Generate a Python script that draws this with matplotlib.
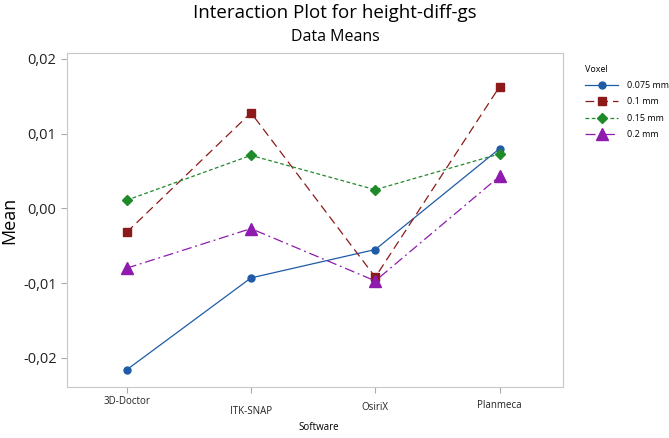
import matplotlib
matplotlib.use("Agg")
import matplotlib.pyplot as plt
import matplotlib.transforms as mtransforms
import numpy as np

plt.rcParams['font.family'] = ['Open Sans', 'DejaVu Sans']

# data
software = ["3D-Doctor", "ITK-SNAP", "OsiriX", "Planmeca"]
voxel = ["0.075 mm", "0.1 mm", "0.15 mm", "0.2 mm"]
mean_0075 = [-0.0216, -0.0093, -0.0055, 0.0080]
mean_01 = [-0.0032, 0.0128, -0.0092, 0.0163]
mean_015 = [0.0011, 0.0071, 0.0025, 0.0073]
mean_02 = [-0.0080, -0.0027, -0.0097, 0.0043]
yticks = [-0.02, -0.01, 0.00, 0.01, 0.02]

series = [mean_0075, mean_01, mean_015, mean_02]
colors = ["#1f5ba6", "#8c1a1a", "#1f8a2a", "#8e1aae"]
markers = ["o", "s", "D", "^"]
msizes = [5, 6, 5, 8]
styles = ["-", (0, (7, 4)), (0, (3, 2)), (0, (8, 3, 1.5, 3))]

W, H = 669, 438
fig = plt.figure(figsize=(W / 100, H / 100), dpi=100)
ax = fig.add_axes([67 / W, 1 - 387 / H, (563 - 67) / W, (387 - 53) / H])

x = np.arange(len(software))
for vals, c, m, ms, ls, lab in zip(series, colors, markers, msizes, styles, voxel):
    ax.plot(x, vals, color=c, marker=m, markersize=ms, linestyle=ls,
            linewidth=0.9, label=lab)

ax.set_xlim(-0.48, 3.51)
ax.set_ylim(-0.0239, 0.0208)
ax.set_yticks(yticks)
ax.set_yticklabels([("%.2f" % v).replace(".", ",") for v in yticks], fontsize=10.5)
ax.set_xticks(x)
ax.set_xticklabels([])

# slightly staggered category labels, as in the original export
trans = mtransforms.blended_transform_factory(ax.transData, fig.transFigure)
for xi, name, ypx in zip(x, software, [402, 411, 407, 405]):
    ax.text(xi, 1 - ypx / H, name, transform=trans, ha="center", va="center",
            fontsize=7, color="#222222")

for s in ax.spines.values():
    s.set_color("#c8c8c8")
ax.tick_params(colors="#aaaaaa", labelcolor="#222222", length=4, width=0.8)

ax.set_ylabel("Mean", fontsize=13)
ax.yaxis.set_label_coords((18 - 67) / (563 - 67), 0.5)
fig.text(319 / W, 1 - 428 / H, "Software", ha="center", va="center", fontsize=7)

fig.text(335 / W, 1 - 13 / H, "Interaction Plot for height-diff-gs", ha="center", va="center", fontsize=13.5)
fig.text(335 / W, 1 - 37 / H, "Data Means", ha="center", va="center", fontsize=11.5)

leg = ax.legend(title="Voxel", loc="upper left", bbox_to_anchor=(585 / W, 1 - 65 / H),
                bbox_transform=fig.transFigure, frameon=False, fontsize=6.5,
                title_fontsize=6.5, handlelength=3.7, handletextpad=0.9,
                labelspacing=0.8, borderpad=0, borderaxespad=0,
                alignment="left")

fig.savefig("out.png", dpi=100)
